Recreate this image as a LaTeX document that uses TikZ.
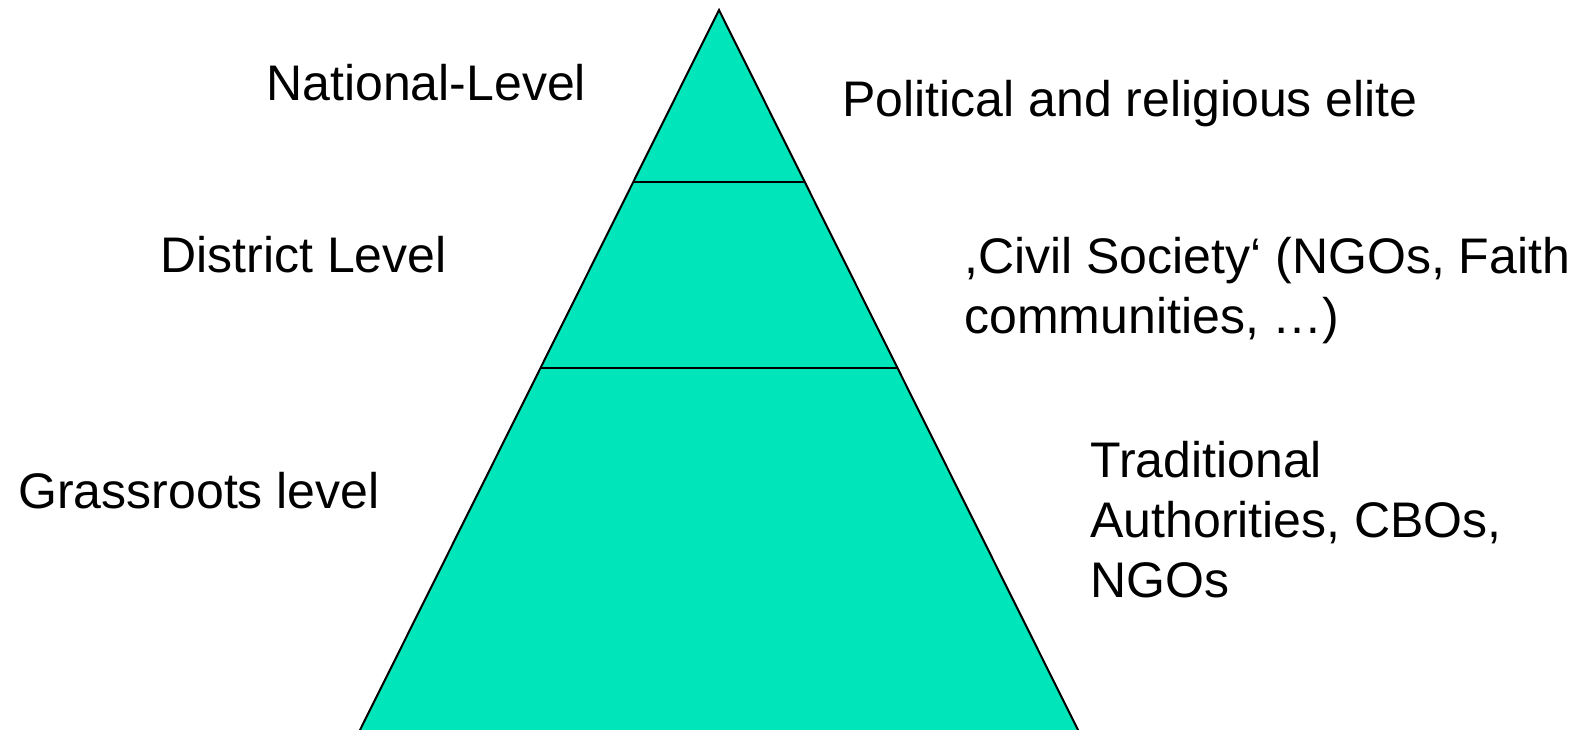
\documentclass[tikz,border=0pt]{standalone}
\usepackage{fontspec}
\setmainfont{Liberation Sans}
\definecolor{pyr}{RGB}{0,230,186}
\begin{document}
\begin{tikzpicture}[x=0.5pt,y=-0.5pt,
  lbl/.style={anchor=base west,inner sep=0pt,font=\fontsize{25}{30}\selectfont,align=left},
  edge/.style={line width=1pt,draw=black}]
\useasboundingbox (0,0) rectangle (1579,729);
\coordinate (apex) at (719,10);
\coordinate (bl) at (355,740);
\coordinate (br) at (1083,740);
\begin{scope}
\clip (0,0) rectangle (1579,729);
\path[edge,fill=pyr,line join=miter] (apex) -- (br) -- (bl) -- cycle;
\end{scope}
\path (apex) -- (bl) coordinate[pos=0.2356] (a1) coordinate[pos=0.4904] (a2);
\path (apex) -- (br) coordinate[pos=0.2356] (b1) coordinate[pos=0.4904] (b2);
\draw[edge] (a1) -- (b1);
\draw[edge] (a2) -- (b2);
\node[lbl] (nat) at (266,100) {National-Level};
\node[lbl] (dis) at (160,272) {District Level};
\node[lbl] (gra) at (18,508) {Grassroots level};
\node[lbl] (pol) at (842,116) {Political and religious elite};
\node[lbl] (civ) at (964,333) {,Civil Society‘ (NGOs, Faith\\communities, …)};
\node[lbl] (tra) at (1090,597) {Traditional\\Authorities, CBOs,\\NGOs};
\end{tikzpicture}
\end{document}
